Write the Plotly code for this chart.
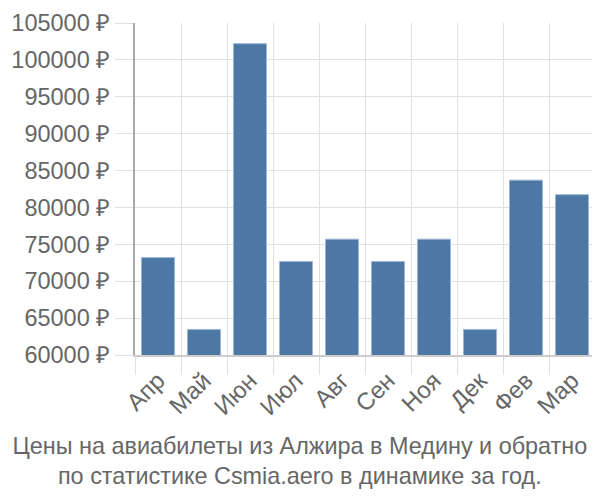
import plotly.graph_objects as go

months = ["Апр", "Май", "Июн", "Июл", "Авг", "Сен", "Ноя", "Дек", "Фев", "Мар"]
prices = [73200, 63470, 102200, 72670, 75700, 72670, 75700, 63470, 83700, 81730]
y_ticks = [60000, 65000, 70000, 75000, 80000, 85000, 90000, 95000, 100000, 105000]
y_labels = [f"{v} ₽" for v in y_ticks]
title_text = "Цены на авиабилеты из Алжира в Медину и обратно<br>по статистике Csmia.aero в динамике за год."

fig = go.Figure(go.Bar(
    x=months, y=prices,
    marker=dict(color="#4d78a6", line=dict(color="#9fb6d3", width=1)),
))

fig.update_layout(
    width=592, height=492,
    margin=dict(l=127, r=5, t=15, b=145, autoexpand=False),
    paper_bgcolor="white", plot_bgcolor="white",
    font=dict(family="Liberation Sans, Arial, sans-serif", size=23.5, color="#666666"),
    bargap=0.28,
    showlegend=False,
    title=dict(text=title_text, xref="container", yref="container", x=0.493, y=0.0935,
               xanchor="center", yanchor="middle",
               font=dict(size=23.4, color="#666666")),
)
fig.update_xaxes(
    range=[-0.5, 9.5], automargin=False,
    tickson="boundaries", showgrid=True, gridcolor="#e0e0e0", gridwidth=1,
    ticks="outside", ticklen=18, tickcolor="#e0e0e0",
    showline=True, linecolor="#cccccc", linewidth=2,
    tickangle=-45, tickfont=dict(size=24, color="#666666"),
)
fig.update_yaxes(
    range=[60000, 105000], tickvals=y_ticks, ticktext=y_labels, automargin=False,
    ticklabeloverflow="allow",
    showgrid=True, gridcolor="#e0e0e0", gridwidth=1,
    ticks="outside", ticklen=18, tickcolor="#e0e0e0",
    showline=True, linecolor="#aaaaaa", linewidth=2,
    zeroline=False, tickfont=dict(size=23.5, color="#666666"),
)

fig.write_html("out.html")
